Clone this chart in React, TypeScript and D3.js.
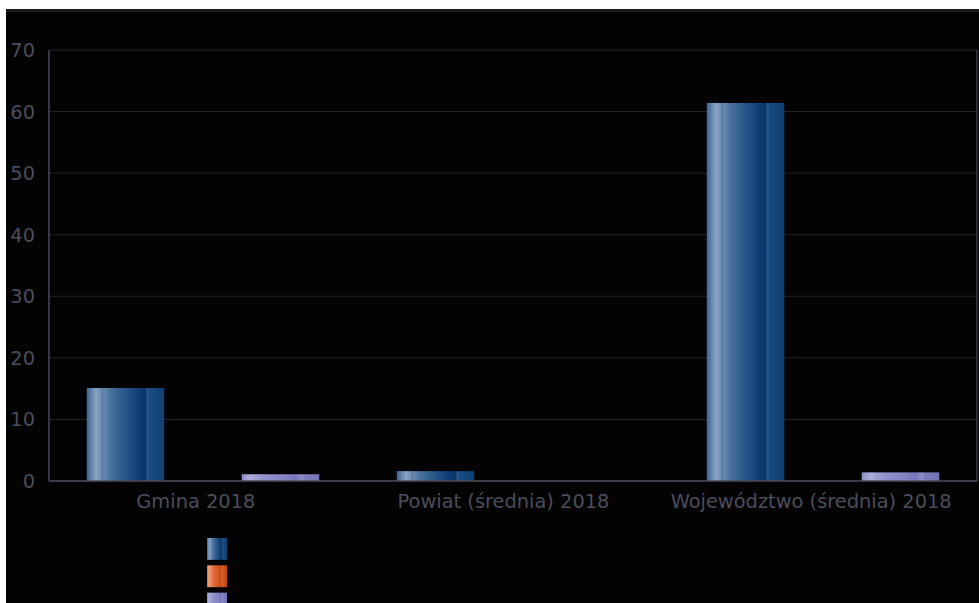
import React from "react";
import * as d3 from "d3";

const categories = ["Gmina 2018", "Powiat (średnia) 2018", "Województwo (średnia) 2018"];
const seriesNames = ["s1", "s2", "s3"];
const seriesBlue = [15.1, 1.6, 61.4];
const seriesOrange = [0, 0, 0];
const seriesPurple = [1.1, 0, 1.4];
const yTicks = [0, 10, 20, 30, 40, 50, 60, 70];

const W = 979;
const H = 603;

type Stop = [number, string];
const gradients: Record<string, Stop[]> = {
  blue: [
    [0, "#3b6594"], [0.05, "#5d80a8"], [0.12, "#8aa5c4"], [0.18, "#7090b5"],
    [0.2, "#557aa3"], [0.22, "#6a8ab0"], [0.3, "#4a72a0"], [0.42, "#33608f"],
    [0.55, "#1f4f84"], [0.7, "#0c3a70"], [0.76, "#0a376b"], [0.78, "#2c5a8a"],
    [0.81, "#1a4b80"], [0.95, "#124377"], [1, "#0f3f73"],
  ],
  orange: [
    [0, "#d86a3c"], [0.05, "#e68a5e"], [0.12, "#f0a07a"], [0.18, "#e88a62"],
    [0.3, "#e0703f"], [0.55, "#d45a22"], [0.7, "#c84810"], [0.78, "#d86a38"],
    [0.81, "#cc5018"], [1, "#c44a14"],
  ],
  purple: [
    [0, "#8a8ac4"], [0.05, "#9c9cd0"], [0.12, "#b0b0dc"], [0.18, "#a0a0d4"],
    [0.3, "#9090cc"], [0.55, "#8484c4"], [0.7, "#7676ba"], [0.78, "#8e8ec8"],
    [0.81, "#7c7cbe"], [1, "#7474b8"],
  ],
};
const seriesKeys = ["blue", "orange", "purple"];
const seriesValues = [seriesBlue, seriesOrange, seriesPurple];

export default function App() {
  const y = d3.scaleLinear().domain([0, 70]).range([481, 50]);
  const x0 = d3.scaleBand<string>().domain(categories).range([48, 978]).paddingInner(0).paddingOuter(0);
  const bw = x0.bandwidth();
  const x1 = d3.scaleBand<string>().domain(seriesNames).range([bw * 0.125, bw * 0.875]).padding(0);
  const xLabel = d3.scaleBand<string>().domain(categories).range([42, 965]);
  const legendY = d3.scaleBand<string>().domain(seriesNames).range([538, 614.5]).paddingInner(0.2);

  const plotLeft = 49;
  const plotRight = 977;

  return (
    <svg
      width={W}
      height={H}
      style={{ position: "absolute", left: 0, top: 0, display: "block" }}
      fontFamily="DejaVu Sans, sans-serif"
    >
      <defs>
        {seriesKeys.map((k) => (
          <linearGradient key={k} id={`g-${k}`} x1="0" x2="1" y1="0" y2="0">
            {gradients[k].map(([o, c], i) => (
              <stop key={i} offset={o} stopColor={c} />
            ))}
          </linearGradient>
        ))}
      </defs>
      <rect x={0} y={0} width={W} height={H} fill="#ffffff" />
      <rect x={6} y={9} width={W - 6} height={H - 9} fill="#030303" />
      <rect x={6} y={9} width={W - 6} height={3} fill="#1c1c1c" />

      {/* gridlines */}
      {yTicks.map((t) => (
        <line key={t} x1={plotLeft} x2={plotRight} y1={y(t)} y2={y(t)} stroke="#242428" strokeWidth={1} />
      ))}
      {/* right border */}
      <line x1={plotRight} x2={plotRight} y1={y(70)} y2={y(0)} stroke="#3a3a44" strokeWidth={1.5} />

      {/* bars */}
      {categories.map((c, ci) => (
        <g key={c} transform={`translate(${x0(c)},0)`}>
          {seriesNames.map((s, si) => {
            const v = seriesValues[si][ci];
            if (!v) return null;
            return (
              <rect
                key={s}
                x={x1(s)}
                y={y(v)}
                width={x1.bandwidth()}
                height={y(0) - y(v)}
                fill={`url(#g-${seriesKeys[si]})`}
              />
            );
          })}
        </g>
      ))}

      {/* axes */}
      <line x1={plotLeft} x2={plotLeft} y1={y(70)} y2={y(0)} stroke="#4a4a56" strokeWidth={1.5} />
      <line x1={plotLeft} x2={plotRight} y1={y(0)} y2={y(0)} stroke="#4a4a56" strokeWidth={1.5} />

      {yTicks.map((t) => (
        <text key={t} x={35} y={y(t)} dy="0.36em" textAnchor="end" fontSize={19.4} fill="#4c4c5a">
          {t}
        </text>
      ))}

      {categories.map((c) => (
        <text
          key={c}
          x={(xLabel(c) ?? 0) + xLabel.bandwidth() / 2}
          y={508}
          textAnchor="middle"
          fontSize={19.4}
          fill="#4c4c5a"
        >
          {c}
        </text>
      ))}

      {/* legend */}
      {seriesNames.map((s, si) => (
        <rect
          key={s}
          x={207}
          y={legendY(s)}
          width={20}
          height={legendY.bandwidth()}
          fill={`url(#g-${seriesKeys[si]})`}
        />
      ))}
    </svg>
  );
}
